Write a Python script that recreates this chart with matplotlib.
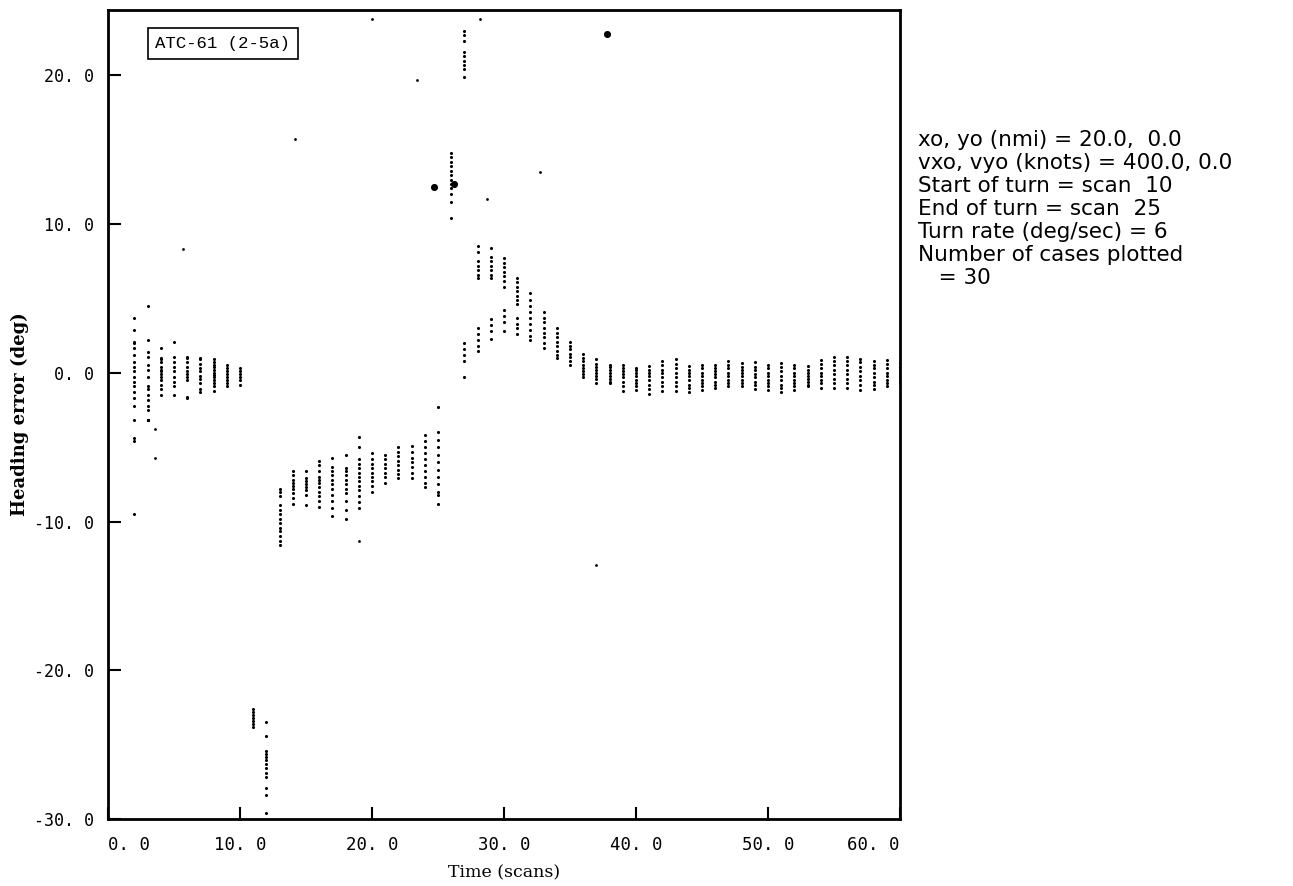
import matplotlib
matplotlib.use('Agg')
import matplotlib.pyplot as plt

# heading error columns, one list per scan number
scans = list(range(2, 61))
heading_err = [
    [3.7, 2.9, 2.1, 2.0, 1.7, 1.2, 0.7, 0.4, 0.1, -0.3, -0.6, -0.9, -1.3, -1.7, -2.2, -3.2, -4.4, -4.6, -9.5],
    [4.5, 2.2, 1.4, 1.1, 0.5, 0.2, -0.3, -0.9, -1.1, -1.5, -1.8, -2.2, -2.5, -3.2, -3.2, -3.2],
    [1.7, 1.0, 0.9, 0.7, 0.4, 0.2, 0.1, -0.1, -0.3, -0.5, -0.8, -1.1, -1.5],
    [2.1, 1.1, 0.7, 0.4, 0.1, -0.3, -0.6, -0.9, -1.5],
    [1.1, 1.0, 0.7, 0.4, 0.1, -0.1, -0.3, -0.5, -1.6, -1.7],
    [1.0, 0.9, 0.6, 0.3, 0.1, -0.2, -0.4, -0.7, -1.1, -1.3],
    [0.9, 0.7, 0.55, 0.4, 0.2, 0.0, -0.15, -0.3, -0.5, -0.7, -0.9, -1.2],
    [0.5, 0.3, 0.1, -0.1, -0.3, -0.5, -0.7, -0.9],
    [0.3, 0.1, -0.1, -0.3, -0.5, -0.8],
    [-22.6, -22.8, -23.0, -23.2, -23.4, -23.6, -23.8],
    [-23.5, -24.4, -25.4, -25.6, -25.8, -26.0, -26.3, -26.6, -26.9, -27.2, -27.9, -28.4, -29.6],
    [-7.8, -8.0, -8.3, -8.9, -9.2, -9.5, -9.8, -10.1, -10.4, -10.6, -11.0, -11.3, -11.6],
    [-6.6, -6.9, -7.2, -7.4, -7.6, -7.8, -8.1, -8.4, -8.8],
    [-6.6, -7.1, -7.3, -7.5, -7.7, -7.9, -8.2, -8.9],
    [-5.9, -6.2, -6.6, -7.0, -7.2, -7.4, -7.7, -8.0, -8.3, -8.6, -9.0],
    [-5.7, -6.3, -6.6, -6.9, -7.2, -7.5, -7.8, -8.2, -8.6, -9.1, -9.6],
    [-5.5, -6.4, -6.6, -6.9, -7.2, -7.5, -7.8, -8.1, -8.6, -9.2, -9.8],
    [-4.3, -5.0, -5.8, -6.1, -6.4, -6.7, -7.0, -7.3, -7.6, -7.9, -8.3, -8.7, -9.1],
    [-5.4, -5.8, -6.1, -6.4, -6.7, -7.0, -7.3, -7.6, -8.0],
    [-5.5, -5.8, -6.1, -6.4, -6.7, -7.0, -7.4],
    [-5.0, -5.3, -5.6, -5.9, -6.2, -6.5, -6.8, -7.1],
    [-4.9, -5.3, -5.7, -6.0, -6.3, -6.7, -7.1],
    [-4.2, -4.6, -5.0, -5.4, -5.8, -6.2, -6.6, -7.0, -7.4, -7.7],
    [-2.3, -4.0, -4.5, -5.0, -5.5, -6.0, -6.5, -7.0, -7.5, -8.0, -8.2, -8.8],
    [14.8, 14.5, 14.2, 13.9, 13.6, 13.3, 13.0, 12.7, 12.4, 12.0, 11.5, 10.4],
    [23.0, 22.7, 22.3, 21.6, 21.3, 21.0, 20.7, 20.4, 19.9, 2.0, 1.6, 1.2, 0.8, -0.3],
    [8.5, 8.1, 7.5, 7.2, 6.9, 6.6, 6.4, 3.0, 2.6, 2.2, 1.8, 1.5],
    [8.4, 7.8, 7.5, 7.2, 6.9, 6.6, 6.4, 3.6, 3.2, 2.8, 2.3],
    [7.7, 7.4, 7.1, 6.8, 6.5, 6.2, 5.8, 4.2, 3.8, 3.4, 2.8],
    [6.4, 6.1, 5.8, 5.5, 5.2, 4.9, 4.6, 3.7, 3.3, 3.0, 2.6],
    [5.4, 4.9, 4.5, 4.1, 3.7, 3.3, 2.9, 2.5, 2.2],
    [4.1, 3.7, 3.4, 3.0, 2.7, 2.4, 2.0, 1.7],
    [3.0, 2.7, 2.4, 2.1, 1.8, 1.5, 1.2, 1.0],
    [2.1, 1.8, 1.6, 1.3, 1.1, 0.8, 0.5],
    [1.3, 1.0, 0.8, 0.5, 0.3, 0.1, -0.1, -0.3],
    [0.9, 0.6, 0.4, 0.2, 0.0, -0.2, -0.4, -0.7],
    [0.55, 0.4, 0.2, 0.0, -0.2, -0.4, -0.6, -0.7],
    [0.5, 0.3, 0.1, -0.1, -0.3, -0.6, -0.9, -1.25],
    [0.35, 0.2, 0.0, -0.2, -0.5, -0.7, -0.9, -1.15],
    [0.45, 0.2, 0.0, -0.2, -0.5, -0.8, -1.1, -1.4],
    [0.8, 0.5, 0.2, 0.0, -0.3, -0.6, -0.9, -1.25],
    [0.9, 0.6, 0.3, 0.0, -0.3, -0.6, -0.9, -1.25],
    [0.45, 0.2, 0.0, -0.2, -0.5, -0.8, -1.0, -1.3],
    [0.5, 0.3, 0.0, -0.2, -0.5, -0.7, -0.9, -1.15],
    [0.55, 0.3, 0.1, -0.1, -0.3, -0.6, -0.8, -1.0],
    [0.8, 0.5, 0.3, 0.0, -0.2, -0.5, -0.7, -0.9],
    [0.65, 0.4, 0.2, 0.0, -0.2, -0.5, -0.7, -0.9],
    [0.7, 0.4, 0.2, -0.1, -0.3, -0.6, -0.8, -1.1],
    [0.5, 0.3, 0.0, -0.2, -0.5, -0.7, -0.9, -1.15],
    [0.65, 0.4, 0.1, -0.2, -0.5, -0.8, -1.0, -1.3],
    [0.5, 0.3, 0.0, -0.2, -0.5, -0.7, -0.9, -1.15],
    [0.45, 0.2, 0.0, -0.2, -0.4, -0.6, -0.8, -0.9],
    [0.85, 0.6, 0.3, 0.0, -0.2, -0.5, -0.7, -1.0],
    [1.1, 0.8, 0.5, 0.2, -0.1, -0.4, -0.7, -1.0],
    [1.1, 0.8, 0.5, 0.2, -0.1, -0.4, -0.7, -1.0],
    [0.95, 0.7, 0.4, 0.1, -0.2, -0.5, -0.8, -1.15],
    [0.8, 0.5, 0.3, 0.0, -0.3, -0.6, -0.8, -1.1],
    [0.85, 0.6, 0.3, 0.0, -0.2, -0.5, -0.7, -0.9],
    [0.65, 0.4, 0.2, 0.0, -0.2, -0.4, -0.6, -0.7],
]

# odd single points away from the columns
stray_x = [3.6, 3.6, 5.7, 14.2, 19.0, 20.0, 23.4, 28.2, 28.7, 32.7, 37.0]
stray_y = [-3.8, -5.7, 8.3, 15.7, -11.3, 23.8, 19.7, 23.8, 11.7, 13.5, -12.9]
blob_x = [24.7, 26.2, 37.8]
blob_y = [12.5, 12.7, 22.8]

xticks = [0, 10, 20, 30, 40, 50, 60]
xlabels = ['0. 0', '10. 0', '20. 0', '30. 0', '40. 0', '50. 0', '60. 0']
yticks = [-30, -20, -10, 0, 10, 20]
ylabels = ['-30. 0', '-20. 0', '-10. 0', '0. 0', '10. 0', '20. 0']

notes = [
    'xo, yo (nmi) = 20.0,  0.0',
    'vxo, vyo (knots) = 400.0, 0.0',
    'Start of turn = scan  10',
    'End of turn = scan  25',
    'Turn rate (deg/sec) = 6',
    'Number of cases plotted',
    '   = 30',
]

fig = plt.figure(figsize=(12.93, 8.86), dpi=100)
ax = fig.add_axes([0.0835, 0.0756, 0.6125, 0.9131])

xs, ys = [], []
for s, col in zip(scans, heading_err):
    xs += [s] * len(col)
    ys += col
ax.scatter(xs, ys, s=5, color='black', marker='o', linewidths=0)
ax.scatter(stray_x, stray_y, s=4, color='black', linewidths=0)
ax.scatter(blob_x, blob_y, s=26, color='black', linewidths=0)

ax.set_xlim(0, 60)
ax.set_ylim(-30, 24.4)
ax.set_xticks(xticks)
ax.set_xticklabels(xlabels, family='DejaVu Sans Mono', fontsize=12.5)
ax.set_yticks(yticks)
ax.set_yticklabels(ylabels, family='DejaVu Sans Mono', fontsize=12)
ax.tick_params(direction='in', length=9, width=1.5, top=False, right=False)
ax.tick_params(axis='x', pad=12)
ax.tick_params(axis='y', pad=10)
xt = ax.get_xticklabels()
xt[0].set_horizontalalignment('left')
xt[-1].set_horizontalalignment('right')
for sp in ax.spines.values():
    sp.set_linewidth(2)

ax.set_xlabel('Time (scans)', family='DejaVu Serif', fontsize=12.5, labelpad=8)
ax.set_ylabel('Heading error (deg)', family='DejaVu Serif', fontsize=13, fontweight='bold', labelpad=4)

ax.text(0.06, 0.968, 'ATC-61 (2-5a)', transform=ax.transAxes, family='Liberation Mono',
        fontsize=12.5, va='top', ha='left',
        bbox=dict(boxstyle='square,pad=0.45', fc='white', ec='black', lw=1.2))

for i, line in enumerate(notes):
    fig.text(0.71, 1 - (140 + 23 * i) / 886, line, family='DejaVu Sans', fontsize=15.5, va='center', ha='left')

fig.savefig('out.png', dpi=100)
